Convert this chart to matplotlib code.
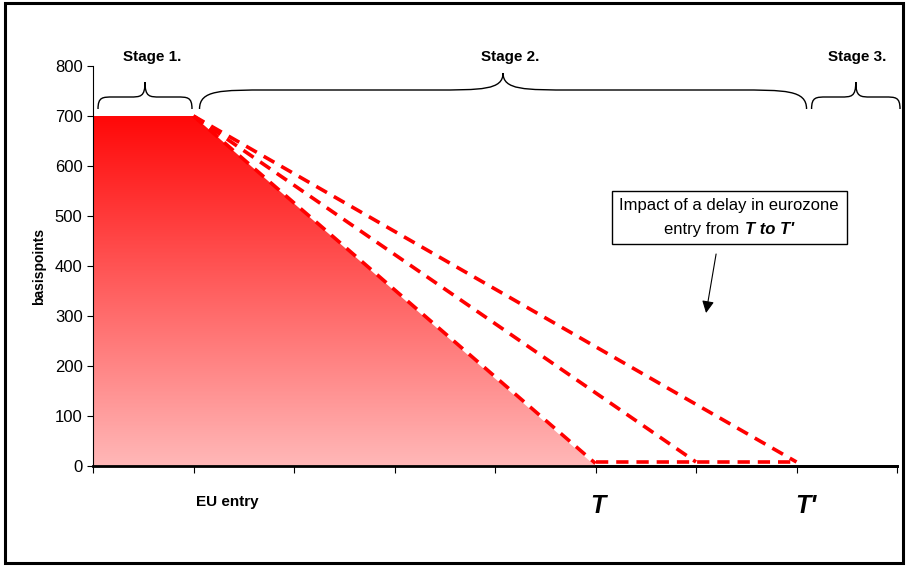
import numpy as np
import matplotlib.pyplot as plt
from matplotlib.path import Path
from matplotlib.patches import PathPatch, Polygon, Rectangle
from matplotlib.offsetbox import TextArea, HPacker, VPacker, AnnotationBbox

plt.rcParams['font.family'] = ['Liberation Sans Narrow', 'DejaVu Sans Condensed', 'Liberation Sans']

# spread over time: stage 1 flat, stage 2 convergence to zero
fill_x = [0, 1, 5]
fill_y = [700, 700, 0]

# alternative paths with a delayed eurozone entry
path_a_x, path_a_y = [1, 5], [700, 5]
path_b_x, path_b_y = [1, 6], [700, 8]
path_c_x, path_c_y = [1, 7], [700, 8]
floor_x, floor_y = [5, 7], [8, 8]

yticks = [0, 100, 200, 300, 400, 500, 600, 700, 800]
stages = ['Stage 1.', 'Stage 2.', 'Stage 3.']
stage_spans = [(0.05, 0.985), (1.06, 7.10), (7.15, 8.03)]

fig = plt.figure(figsize=(9.06, 5.66), dpi=100)
ax = fig.add_axes([93/906, 1-466/566, 804/906, 400/566])

# gradient fill under the curve
poly = Polygon(list(zip(fill_x, fill_y)) + [(0, 0)], closed=True,
               facecolor='none', edgecolor='none')
ax.add_patch(poly)
grad = np.linspace(0, 1, 256).reshape(-1, 1)
top = np.array([1.0, 0.03, 0.03])
bot = np.array([1.0, 0.72, 0.72])
img = top[None, None, :] * (1 - grad[:, :, None]) + bot[None, None, :] * grad[:, :, None]
im = ax.imshow(img, extent=[0, 5, 0, 700], aspect='auto', origin='upper', zorder=1)
im.set_clip_path(poly)

dash = dict(color='#ff0000', lw=2.6, dashes=(3.4, 2.2), zorder=3)
ax.plot(path_a_x, path_a_y, **dash)
ax.plot(path_b_x, path_b_y, **dash)
ax.plot(path_c_x, path_c_y, **dash)
ax.plot(floor_x, floor_y, **dash)
ax.plot([5, 8], [0, 0], color='black', lw=2, zorder=2, clip_on=False)


def brace(x0, x1, yb, yl, yt, w):
    xm = (x0 + x1) / 2
    verts = [(x0, yb), (x0, yl), (x0 + w * 0.3, yl), (x0 + w, yl),
             (xm - w, yl), (xm - w * 0.3, yl), (xm, yl), (xm, yt),
             (xm, yl), (xm + w * 0.3, yl), (xm + w, yl),
             (x1 - w, yl), (x1 - w * 0.3, yl), (x1, yl), (x1, yb)]
    codes = [Path.MOVETO, Path.CURVE4, Path.CURVE4, Path.CURVE4,
             Path.LINETO, Path.CURVE4, Path.CURVE4, Path.CURVE4,
             Path.CURVE4, Path.CURVE4, Path.CURVE4,
             Path.LINETO, Path.CURVE4, Path.CURVE4, Path.CURVE4]
    ax.add_patch(PathPatch(Path(verts, codes), fc='none', ec='black', lw=1,
                           clip_on=False))


brace(*stage_spans[0], 714, 738, 768, 0.15)
brace(*stage_spans[1], 714, 752, 786, 0.7)
brace(*stage_spans[2], 714, 738, 768, 0.15)
for name, xc in zip(stages, [0.59, 4.15, 7.6]):
    ax.text(xc, 818, name, ha='center', va='center', fontsize=11,
            fontweight='bold', clip_on=False)

# note box with mixed font styles
line1 = TextArea('Impact of a delay in eurozone', textprops=dict(fontsize=12))
line2 = HPacker(children=[
    TextArea('entry from', textprops=dict(fontsize=12)),
    TextArea("T to T'", textprops=dict(fontsize=12, fontweight='bold', style='italic')),
], align='baseline', pad=0, sep=4)
note = VPacker(children=[line1, line2], align='center', pad=0, sep=6)
ab = AnnotationBbox(note, (6.33, 497), xycoords='data', frameon=True, pad=0.5,
                    bboxprops=dict(boxstyle='square,pad=0.55', fc='white', ec='black', lw=1))
ax.add_artist(ab)
ax.annotate('', xy=(6.1, 306), xytext=(6.2, 424),
            arrowprops=dict(arrowstyle='-|>', color='black', lw=0.8,
                            mutation_scale=18, shrinkA=0, shrinkB=0))

ax.set_xlim(0, 8)
ax.set_ylim(0, 800)
ax.set_yticks(yticks)
ax.set_xticks(range(9))
ax.set_xticklabels([])
ax.tick_params(axis='y', labelsize=12, length=4, direction='out')
ax.tick_params(axis='x', length=5, direction='out')
ax.set_ylabel('basispoints', fontsize=10, fontweight='bold', labelpad=6)
for s in ['top', 'right']:
    ax.spines[s].set_visible(False)
ax.spines['bottom'].set_linewidth(2)
ax.spines['left'].set_linewidth(0.8)

ax.text(1.34, -72, 'EU entry', ha='center', va='center', fontsize=11,
        fontweight='bold', clip_on=False)
ax.text(5.02, -80, "T", ha='center', va='center', fontsize=18,
        fontweight='bold', style='italic', clip_on=False)
ax.text(7.09, -80, "T'", ha='center', va='center', fontsize=18,
        fontweight='bold', style='italic', clip_on=False)

fig.patches.append(Rectangle((5/906, 3/566), 898/906, 560/566, transform=fig.transFigure,
                             fill=False, ec='black', lw=2.2))

fig.savefig('out.png', dpi=100)
